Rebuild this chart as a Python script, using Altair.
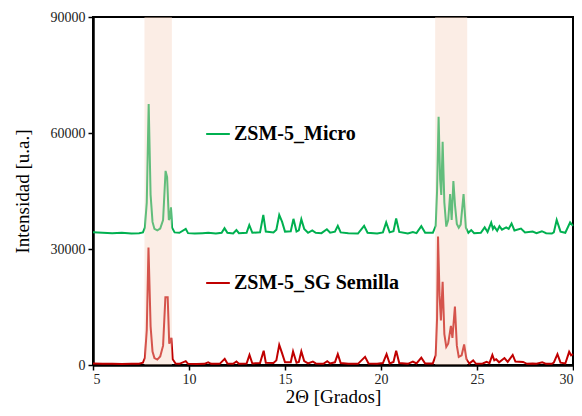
import altair as alt
import pandas as pd

# --- data ---
series_names = ["ZSM-5_Micro", "ZSM-5_SG Semilla"]
series_colors = ["#00B050", "#C00000"]

micro_x = [5.0, 5.5, 6.0, 6.5, 7.0, 7.4, 7.6, 7.7, 7.8, 7.9, 8.0, 8.1, 8.2, 8.35, 8.5, 8.65, 8.78, 8.86,
           8.95, 9.0, 9.06, 9.12, 9.25, 9.5, 9.83, 9.95, 10.3, 10.7, 11.0, 11.4, 11.7, 11.85, 12.0, 12.3,
           12.47, 12.6, 13.0, 13.14, 13.3, 13.7, 13.87, 14.0, 14.4, 14.55, 14.7, 14.85, 15.0, 15.3, 15.44,
           15.6, 15.72, 15.85, 16.0, 16.2, 16.42, 16.6, 16.9, 17.18, 17.35, 17.6, 17.75, 17.9, 18.3, 18.8,
           19.12, 19.3, 19.8, 20.1, 20.27, 20.45, 20.65, 20.79, 20.95, 21.4, 21.66, 21.85, 22.1, 22.3, 22.7,
           22.85, 22.92, 23.0, 23.08, 23.14, 23.21, 23.3, 23.4, 23.5, 23.6, 23.68, 23.77, 23.86, 23.95,
           24.05, 24.15, 24.3, 24.42, 24.55, 24.7, 24.85, 25.2, 25.4, 25.55, 25.74, 25.83, 25.9, 26.05,
           26.17, 26.3, 26.52, 26.65, 26.8, 26.95, 27.29, 27.5, 27.9, 28.1, 28.38, 28.6, 28.9, 29.0, 29.15,
           29.35, 29.6, 29.85, 30.0]
micro_y = [34300, 34200, 34100, 34200, 34000, 34100, 34300, 35500, 42000, 67500, 44000, 37000, 35200, 34800,
           35300, 37500, 50200, 48600, 37500, 38000, 40800, 35500, 34300, 34200, 35200, 34100, 34000, 34100,
           34200, 34000, 34200, 35400, 34200, 34000, 34900, 34100, 34200, 36200, 34200, 34300, 38800, 34500,
           34300, 35000, 38800, 37000, 34500, 34600, 37800, 34500, 34800, 37700, 35200, 34200, 34800, 34200,
           34100, 35100, 34200, 34500, 36000, 34300, 34100, 34000, 36000, 34200, 34000, 34300, 36900, 34300,
           34600, 37900, 34400, 34000, 34400, 34100, 35900, 34200, 34200, 36000, 45000, 64200, 48000, 44000,
           57700, 42000, 35800, 37500, 44200, 37500, 47600, 41000, 36500, 35500, 36300, 44200, 35500, 34200,
           34900, 34100, 34200, 35600, 34400, 36800, 35200, 35800, 34700, 35900, 35000, 35600, 35200, 36600,
           34800, 35300, 34300, 34500, 34100, 34600, 34100, 34000, 34300, 37500, 34500, 34200, 36900, 36000]

sg_x = [5.0, 5.5, 6.0, 6.5, 7.0, 7.4, 7.6, 7.7, 7.8, 7.89, 8.0, 8.1, 8.2, 8.35, 8.5, 8.65, 8.77, 8.89, 8.97,
        9.08, 9.15, 9.3, 9.5, 9.83, 9.95, 10.4, 10.8, 11.0, 11.15, 11.6, 11.86, 12.0, 12.3, 12.47, 12.6,
        13.0, 13.15, 13.3, 13.7, 13.89, 14.0, 14.4, 14.55, 14.7, 14.85, 15.0, 15.3, 15.42, 15.6, 15.72,
        15.85, 16.0, 16.2, 16.45, 16.6, 17.0, 17.2, 17.35, 17.6, 17.75, 17.9, 18.3, 18.8, 19.17, 19.35,
        19.8, 20.1, 20.29, 20.45, 20.65, 20.79, 20.95, 21.4, 21.66, 21.85, 22.1, 22.3, 22.7, 22.85, 22.92,
        22.97, 23.05, 23.12, 23.21, 23.3, 23.4, 23.5, 23.64, 23.72, 23.85, 23.95, 24.05, 24.2, 24.33,
        24.45, 24.6, 24.8, 24.95, 25.3, 25.5, 25.65, 25.8, 25.9, 26.0, 26.15, 26.43, 26.6, 26.86, 27.0,
        27.4, 27.6, 27.9, 28.1, 28.4, 28.6, 28.9, 29.0, 29.19, 29.35, 29.6, 29.8, 29.9, 30.0]
sg_y = [400, 300, 350, 250, 300, 350, 600, 1800, 9000, 30400, 10000, 3500, 1800, 1400, 2200, 5000, 17500,
        17500, 5500, 7000, 1500, 400, 300, 1000, 300, 250, 300, 700, 300, 300, 1600, 400, 300, 900, 300,
        400, 2600, 400, 500, 3700, 600, 500, 1200, 5200, 3000, 700, 700, 3500, 600, 800, 3500, 1000, 400,
        900, 400, 300, 1000, 400, 700, 2800, 500, 300, 300, 2100, 400, 300, 500, 2800, 400, 800, 3700, 500,
        300, 900, 400, 1900, 400, 400, 2500, 12000, 33200, 18000, 11500, 21500, 8000, 4700, 5500, 10100,
        7000, 15100, 5000, 2100, 2500, 5300, 1500, 400, 1200, 300, 400, 800, 500, 2600, 1200, 1500, 700,
        1800, 800, 2600, 900, 800, 300, 400, 300, 700, 300, 300, 600, 2800, 600, 400, 3400, 2500, 2800]

band_start = [7.68, 22.82]
band_end = [9.11, 24.49]

x_ticks = [5, 10, 15, 20, 25, 30]
y_ticks = [0, 30000, 60000, 90000]

SERIF = "Liberation Serif"

df = pd.concat([
    pd.DataFrame({"x": micro_x, "y": micro_y, "serie": series_names[0], "orden": range(len(micro_x))}),
    pd.DataFrame({"x": sg_x, "y": sg_y, "serie": series_names[1], "orden": range(len(sg_x))}),
])
bands = pd.DataFrame({"ini": band_start, "fin": band_end})

xs = alt.Scale(domain=[5, 30], nice=False)
ys = alt.Scale(domain=[0, 90000], nice=False)

lines = alt.Chart(df).mark_line(strokeWidth=2).encode(
    x=alt.X("x:Q", scale=xs, title="2Θ [Grados]",
            axis=alt.Axis(values=x_ticks, format="d")),
    y=alt.Y("y:Q", scale=ys, title="Intensidad [u.a.]",
            axis=alt.Axis(values=y_ticks, format="d")),
    color=alt.Color("serie:N", scale=alt.Scale(domain=series_names, range=series_colors),
                    legend=alt.Legend(title=None, orient="none", legendX=112, legendY=104,
                                      direction="vertical", rowPadding=126,
                                      symbolType="stroke", symbolSize=560, symbolStrokeWidth=2,
                                      labelFont=SERIF, labelFontSize=20, labelLimit=400,
                                      labelFontWeight="bold", labelColor="black",
                                      labelOffset=3, padding=0)),
    order="orden:Q",
)

band_layer = alt.Chart(bands).mark_rect(color="#F6D3BE", opacity=0.4).encode(
    x=alt.X("ini:Q", scale=xs),
    x2="fin:Q",
    y=alt.datum(0),
    y2=alt.datum(90000),
)

chart = alt.layer(lines, band_layer).properties(
    width=480, height=348,
    padding={"left": 85, "top": 9, "right": 1, "bottom": 43},
    autosize="none",
).configure_view(
    stroke="black", strokeWidth=2
).configure_axis(
    grid=False,
    domainColor="black", domainWidth=2.5,
    tickColor="black", tickWidth=1.5, tickSize=5,
    labelFont=SERIF, labelFontSize=14, labelColor="#222222",
    titleFont=SERIF, titleColor="black", titleFontWeight="normal",
).configure_axisX(
    labelPadding=2, titlePadding=1, titleFontSize=19
).configure_axisY(
    labelPadding=3, titlePadding=18, titleFontSize=19
)

chart.save("out.html", embed_options={"renderer": "svg", "actions": False})
